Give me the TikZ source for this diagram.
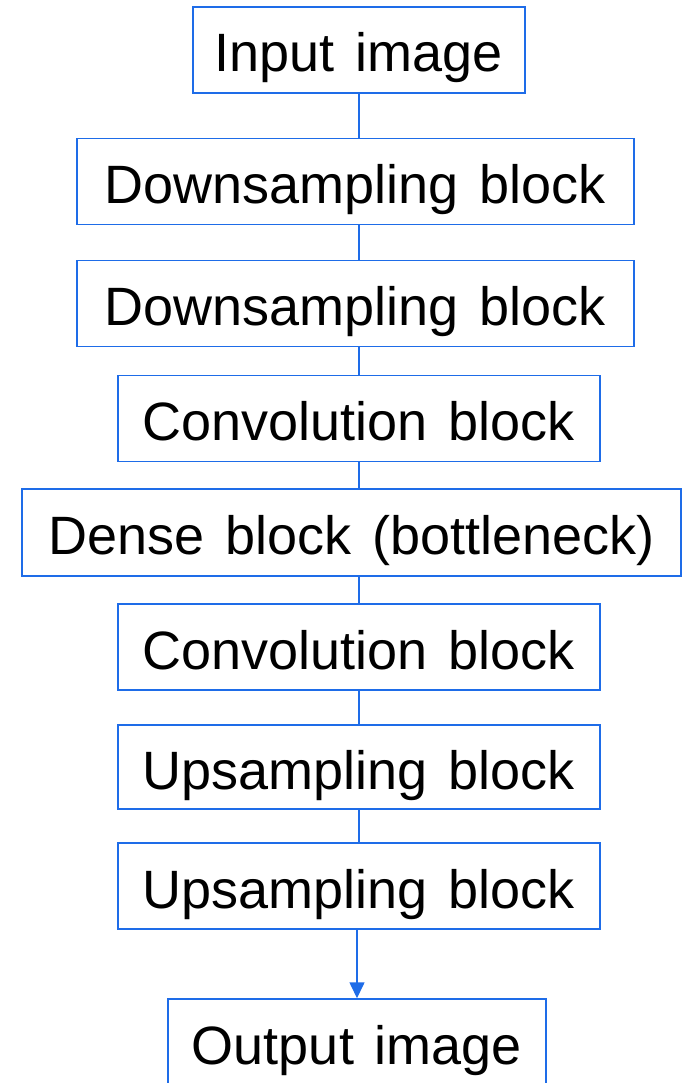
\documentclass[tikz,border=0pt]{standalone}
\usepackage{fontspec}
\setmainfont[WordSpace=1.4]{Liberation Sans}
\usetikzlibrary{arrows.meta,positioning}
\definecolor{LineBlue}{RGB}{30,108,232}
\tikzset{
  blk/.style={draw=LineBlue,fill=white,line width=1.5pt,inner sep=0pt,
              minimum height=86pt,text centered,text height=44pt,text depth=0pt,
              font=\fontsize{54}{60}\selectfont},
  link/.style={LineBlue,line width=1.6pt},
  arr/.style={-{Triangle[length=16pt,width=15pt]},LineBlue,line width=1.6pt},
}

\begin{document}
\begin{tikzpicture}[x=1pt,y=-1pt]
            \useasboundingbox (0,0) rectangle (686,1083);
            % encoder path
            \node[blk, minimum width=332pt] (in) at (359, 50) {Input image};
            \node[blk, minimum width=557pt] (down1) at (355.5, 181.5) {Downsampling block};
            \node[blk, minimum width=557pt] (down2) at (355.5, 303.5) {Downsampling block};
            \node[blk, minimum width=482pt] (conv1) at (359, 418.5) {Convolution block};

            \node[blk, minimum width=659pt, minimum height=87pt] (dense) at (351.5, 532.5) {Dense block (bottleneck)};

            % decoder path
            \node[blk, minimum width=482pt] (conv2) at (359, 647) {Convolution block};
            \node[blk, minimum width=482pt, minimum height=84pt] (up1) at (359, 767) {Upsampling block};
            \node[blk, minimum width=482pt] (up2) at (359, 886) {Upsampling block};
            \node[blk, minimum width=378pt] (out) at (357, 1042) {Output image};

            \foreach \a/\b in {in/down1,down1/down2,down2/conv1,conv1/dense,
                               dense/conv2,conv2/up1,up1/up2}
              \draw[link] (\a.south -| in) -- (\b.north -| in);
            \draw[arr] (up2.south -| out) -- (out.north);
          \end{tikzpicture}
\end{document}
